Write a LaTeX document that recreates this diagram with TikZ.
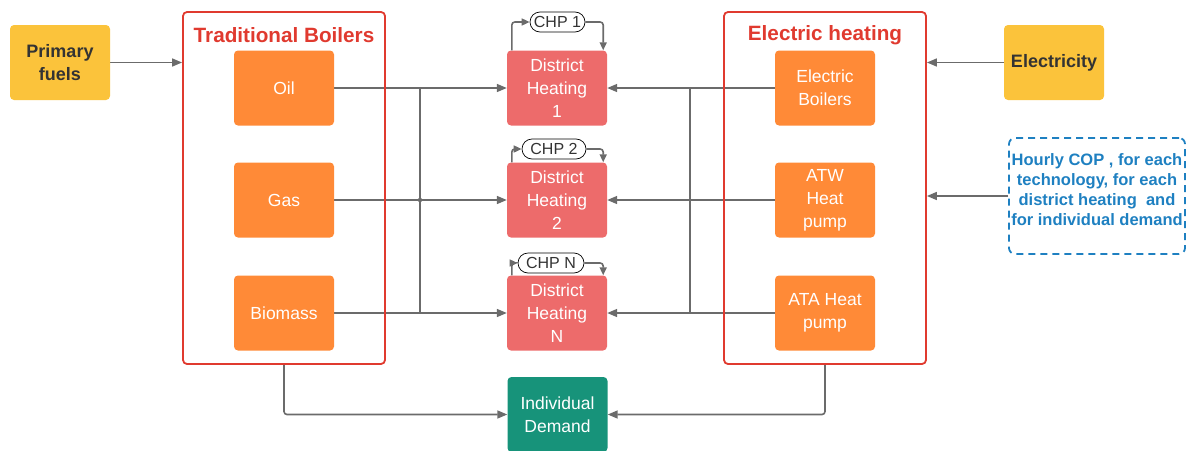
\documentclass[tikz,border=0pt]{standalone}
\usepackage{fontspec}
\setmainfont{Liberation Sans}
\usetikzlibrary{arrows.meta}
\definecolor{ylw}{HTML}{FBC33B}
\definecolor{org}{HTML}{FF8A37}
\definecolor{dhc}{HTML}{ED6B6B}
\definecolor{teal}{HTML}{17937A}
\definecolor{frm}{HTML}{E03A2F}
\definecolor{lng}{HTML}{6B6B6B}
\definecolor{txd}{HTML}{333333}
\definecolor{blu}{HTML}{1E80C1}
\pgfdeclarelayer{bg}
\pgfsetlayers{bg,main}
\tikzset{
  box/.style={rectangle, rounded corners=4pt, minimum width=100pt, minimum height=75pt, inner sep=0pt, align=center, text=white, font=\fontsize{17.5}{23}\selectfont},
  src/.style={box, fill=ylw, text=txd, font=\fontsize{18}{23}\selectfont\bfseries},
  boiler/.style={box, fill=org},
  dhbox/.style={box, fill=dhc},
  frame/.style={rectangle, rounded corners=4pt, draw=frm, line width=1.8pt, minimum width=202pt, minimum height=352pt, inner sep=0pt},
  ftitle/.style={text=frm, font=\fontsize{20.7}{24}\selectfont\bfseries, inner sep=0pt},
  pill/.style={rectangle, rounded corners=10pt, draw=black, line width=0.7pt, fill=white, minimum width=56pt, minimum height=20pt, inner sep=0pt, font=\fontsize{16}{18}\selectfont, text=txd},
  ln/.style={draw=lng, line width=1.6pt},
  arr/.style={ln, -{Triangle[length=10pt,width=8pt]}},
  sarr/.style={ln, -{Triangle[length=8pt,width=7pt]}},
}
\begin{document}
\begin{tikzpicture}[x=1pt,y=-1pt]
\useasboundingbox (0,0) rectangle (1190,450);
% frames
\node[frame] (tb) at (284,188) {};
\node[ftitle] (tbt) at (284,35) {Traditional Boilers};
\node[frame] (eh) at (825,188) {};
\node[ftitle] (eht) at (825,35) {Electric heating};
% sources
\node[src] (pf) at (60,62.5) {Primary\\fuels};
\node[src] (el) at (1054,62.5) {Electricity};
% boilers
\node[boiler] (oil) at (284,88) {Oil};
\node[boiler] (gas) at (284,200) {Gas};
\node[boiler] (bio) at (284,313) {Biomass};
\node[boiler] (eb) at (825,88) {Electric\\Boilers};
\node[boiler] (atw) at (825,200) {ATW\\Heat\\pump};
\node[boiler] (ata) at (825,313) {ATA Heat\\pump};
% district heating
\node[dhbox] (dh1) at (557,88) {District\\Heating\\1};
\node[dhbox] (dh2) at (557,200) {District\\Heating\\2};
\node[dhbox] (dhn) at (557,313) {District\\Heating\\N};
\node[box, fill=teal] (ind) at (557.5,414.5) {Individual\\Demand};
% CHP pills
\node[pill, minimum width=55pt] (chp1) at (557.5,22) {CHP 1};
\node[pill, minimum width=64pt] (chp2) at (554,149) {CHP 2};
\node[pill, minimum width=66pt] (chpn) at (551,263) {CHP N};
% COP box
\node[draw=blu, line width=1.8pt, dash pattern=on 7pt off 5pt, rounded corners=6pt, minimum width=176pt, minimum height=116pt, inner sep=0pt] (cop) at (1097,196) {};
\node[text=blu, align=center, inner sep=0pt, font=\fontsize{16.5}{20}\selectfont\bfseries] (copt) at (1097,190) {Hourly COP , for each\\technology, for each\\district heating\ \ and\\for individual demand};
% junction coordinates
\coordinate (jl1) at (420,88);
\coordinate (jl3) at (420,313);
\coordinate (jl2) at (420,200);
\coordinate (jr1) at (690,88);
\coordinate (jr3) at (690,313);
\begin{pgfonlayer}{bg}
\draw[arr] (pf.east) -- (tb.west |- pf.east);
\draw[arr] (el.west) -- (eh.east |- el.west);
\draw[arr] (cop.west) -- (eh.east |- cop.west);
\draw[arr] (oil.east) -- (dh1.west);
\draw[arr] (gas.east) -- (dh2.west);
\draw[arr] (bio.east) -- (dhn.west);
\draw[ln] (jl1) -- (jl3);
\fill[lng] (jl2) circle (2.2pt);
\draw[arr] (eb.west) -- (dh1.east);
\draw[arr] (atw.west) -- (dh2.east);
\draw[arr] (ata.west) -- (dhn.east);
\draw[ln] (jr1) -- (jr3);
\draw[arr, rounded corners=3pt] (tb.south) |- (ind.west);
\draw[arr, rounded corners=3pt] (eh.south) |- (ind.east);
\end{pgfonlayer}
% CHP loops
\draw[sarr, rounded corners=3pt] ([xshift=5pt]dh1.north west) |- (chp1.west);
\draw[sarr, rounded corners=3pt] (chp1.east) -| ([xshift=-4pt]dh1.north east);
\draw[sarr, rounded corners=3pt] ([xshift=5pt]dh2.north west) |- (chp2.west);
\draw[sarr, rounded corners=3pt] (chp2.east) -| ([xshift=-4pt]dh2.north east);
\draw[sarr, rounded corners=3pt] ([xshift=5pt]dhn.north west) |- (chpn.west);
\draw[sarr, rounded corners=3pt] (chpn.east) -| ([xshift=-4pt]dhn.north east);
\end{tikzpicture}
\end{document}
